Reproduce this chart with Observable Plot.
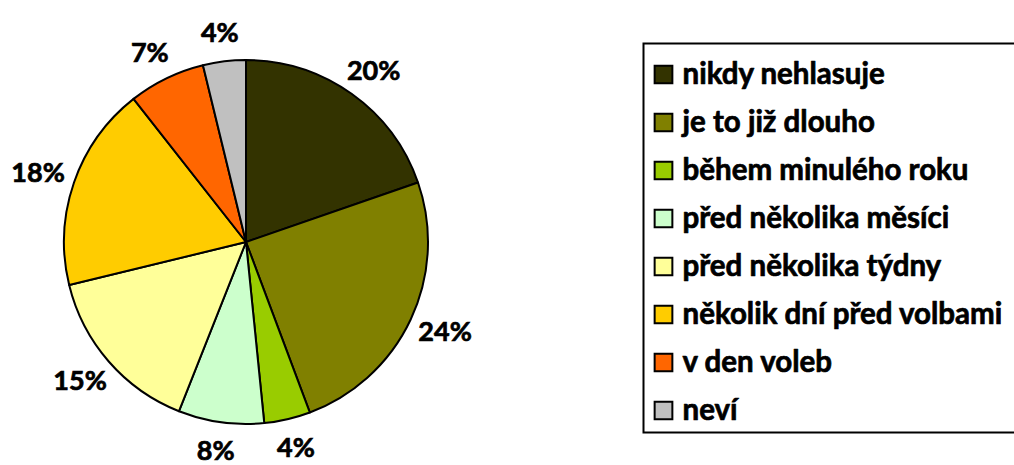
<!DOCTYPE html>
<html><head><meta charset="utf-8">
<script src="https://cdn.jsdelivr.net/npm/d3@7"></script>
<script src="https://cdn.jsdelivr.net/npm/@observablehq/plot@0.6"></script>
<style>html,body{margin:0;padding:0;overflow:hidden;background:#fff;}</style>
</head><body><div id="chart"></div>
<script>
const categories = ["nikdy nehlasuje","je to již dlouho","během minulého roku","před několika měsíci","před několika týdny","několik dní před volbami","v den voleb","neví"];
const values = [19.7, 24.6, 4.1, 7.6, 15.2, 18.2, 6.8, 3.8];
const labels = ["20%","24%","4%","8%","15%","18%","7%","4%"];
const colors = ["#333300","#808000","#99CC00","#CCFFCC","#FFFF99","#FFCC00","#FF6600","#C0C0C0"];

const slices = categories.map((c, i) => ({category: c, value: values[i], label: labels[i]}));
const FONT = "Lato, 'Open Sans', sans-serif";

function pieMark(index, scales, vals, dimensions, context) {
  const color = (scales && scales.color) ? scales.color : d3.scaleOrdinal(categories, colors);
  const arcs = d3.pie().sort(null).value(d => d.value)(slices);
  const cx = 246, cy = 242, r = 182, lr = 211;
  const arc = d3.arc().innerRadius(0).outerRadius(r);
  const labelArc = d3.arc().innerRadius(lr).outerRadius(lr);
  const g = d3.create("svg:g").attr("transform", `translate(${cx},${cy})`);
  g.selectAll("path").data(arcs).join("path")
    .attr("d", arc)
    .attr("fill", d => color(d.data.category))
    .attr("stroke", "#000")
    .attr("stroke-width", 2)
    .attr("stroke-linejoin", "round");
  g.selectAll("text").data(arcs).join("text")
    .attr("transform", d => {
      const [x, y] = labelArc.centroid(d);
      const a = (d.startAngle + d.endAngle) / 2;
      return `translate(${x + Math.sin(a) * 9},${y})`;
    })
    .attr("text-anchor", "middle")
    .attr("dy", "0.35em")
    .attr("font-family", FONT)
    .attr("font-weight", "bold")
    .attr("font-size", 27)
    .attr("fill", "#000")
    .attr("stroke", "#000")
    .attr("stroke-width", 0.7)
    .text(d => d.data.label);
  return g.node();
}

const chart = Plot.plot({
  width: 1014,
  height: 465,
  margin: 0,
  style: {fontFamily: FONT, background: "#fff"},
  y: {type: "point", domain: categories, range: [72, 412], padding: 0, axis: null},
  color: {type: "ordinal", domain: categories, range: colors},
  marks: [
    pieMark,
    Plot.frame({insetLeft: 643, insetTop: 43, insetBottom: 33, insetRight: -6, stroke: "#000", strokeWidth: 2}),
    Plot.dot(categories, {y: d => d, fill: d => d, symbol: "square", r: 10, stroke: "#000", strokeWidth: 2, frameAnchor: "left", dx: 663}),
    Plot.text(categories, {y: d => d, text: d => d, frameAnchor: "left", dx: 682, textAnchor: "start", fontSize: 29.5, fontWeight: "bold", fill: "#000", stroke: "#000", strokeWidth: 0.7})
  ]
});
document.getElementById("chart").appendChild(chart);
</script>
</body></html>
